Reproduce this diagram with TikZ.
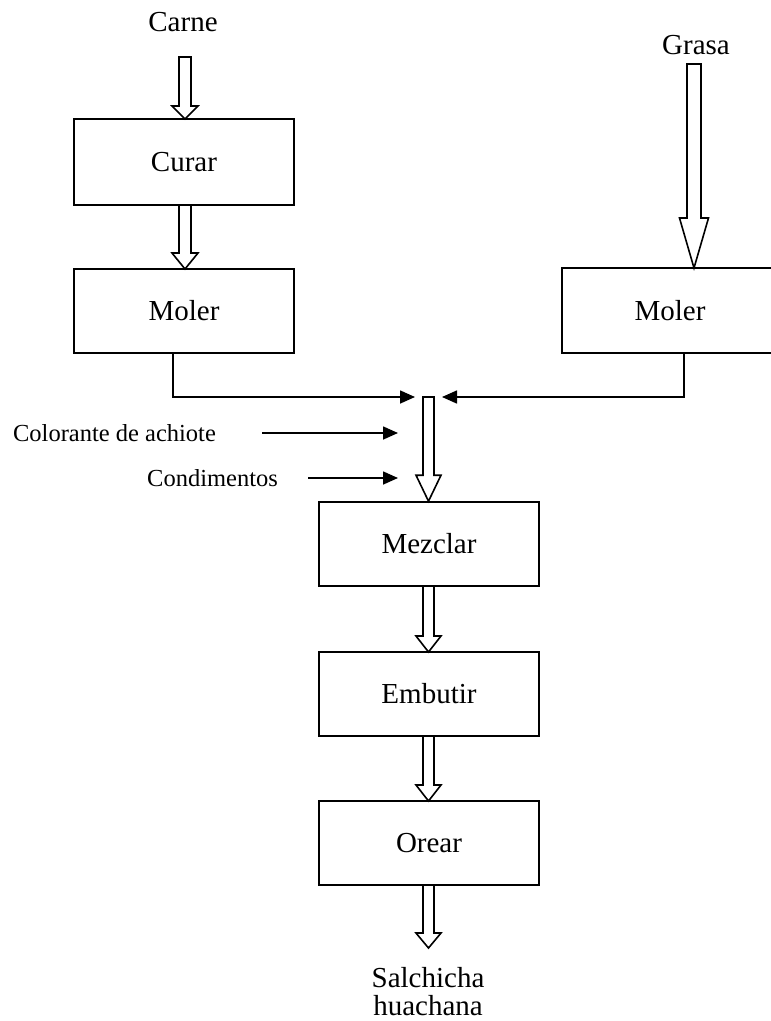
\documentclass[tikz,border=0pt]{standalone}
\usepackage{fontspec}
\setmainfont{Liberation Serif}
\usetikzlibrary{arrows.meta,calc}
\tikzset{
  box/.style={draw, line width=1.6pt, minimum width=220pt, minimum height=84pt, inner sep=0pt, font=\fontsize{29}{33}\selectfont},
  lbl/.style={inner sep=0pt, font=\fontsize{29}{33}\selectfont},
  slbl/.style={inner sep=0pt, font=\fontsize{24.5}{28}\selectfont},
  conn/.style={line width=1.6pt, -{Triangle[length=15pt,width=13pt]}},
  hollow/.style={line width=1.6pt, line join=miter},
}
% #1 from, #2 to, #3 shaft half width, #4 head half width, #5 head length
\newcommand\harrow[5]{%
  \draw[hollow] let \p1=(#1), \p2=(#2) in
    (\x1-#3,\y1) -- (\x1-#3,\y2+#5) -- (\x1-#4,\y2+#5) -- (\x1,\y2)
    -- (\x1+#4,\y2+#5) -- (\x1+#3,\y2+#5) -- (\x1+#3,\y1) -- cycle;}
\begin{document}
\begin{tikzpicture}[x=1pt,y=-1pt]
\useasboundingbox (0,0) rectangle (771,1021);
% labels
\node[lbl] (carne) at (183,22) {Carne};
\node[lbl] (grasa) at (696,45) {Grasa};
% boxes
\node[box, minimum height=86pt] (curar) at (184,162) {Curar};
\node[box] (moler1) at (184,311) {Moler};
\begin{scope}
\clip (0,0) rectangle (771,1021);
\node[box, minimum width=226pt, minimum height=85pt, text width=213pt, align=center] (moler2) at (675,310.5) {\hspace*{-10pt}Moler};
\end{scope}
\node[box] (mezclar) at (429,544) {Mezclar};
\node[box] (embutir) at (429,694) {Embutir};
\node[box] (orear) at (429,843) {Orear};
\node[lbl, align=center, font=\fontsize{29}{28}\selectfont] (salchicha) at (428,992) {Salchicha\\huachana};
% side inputs
\node[slbl] (colorante) at (114.5,433) {Colorante de achiote};
\node[slbl] (condimentos) at (212.5,478) {Condimentos};
% coordinates
\coordinate (carnetop) at (185,57);
\coordinate (curartop) at (185,119);
\coordinate (curarbot) at (185,205);
\coordinate (moler1top) at (185,269);
\coordinate (grasatop) at (694,64);
\coordinate (moler2top) at (694,268);
\coordinate (m1drop) at (173,353);
\coordinate (m2drop) at (684,353);
\coordinate (ltip) at (415,397);
\coordinate (rtip) at (442,397);
\coordinate (jtop) at (428.5,397);
\coordinate (ctip) at (398,433);
\coordinate (cstart) at (262,433);
\coordinate (dtip) at (398,478);
\coordinate (dstart) at (308,478);
\coordinate (mezbot) at (428.5,586);
\coordinate (embtop) at (428.5,652);
\coordinate (embbot) at (428.5,736);
\coordinate (oretop) at (428.5,801);
\coordinate (orebot) at (428.5,885);
\coordinate (outtip) at (428.5,948);
% hollow arrows
\harrow{carnetop}{curartop}{6pt}{13pt}{13pt}
\harrow{curarbot}{moler1top}{6pt}{13pt}{16pt}
\harrow{grasatop}{moler2top}{7pt}{14.5pt}{50pt}
\harrow{jtop}{mezclar.north}{5.5pt}{12.5pt}{26pt}
\harrow{mezbot}{embtop}{5.5pt}{12.5pt}{16pt}
\harrow{embbot}{oretop}{5.5pt}{12.5pt}{16pt}
\harrow{orebot}{outtip}{5.5pt}{12.5pt}{15pt}
% connectors
\draw[conn] (m1drop) |- (ltip);
\draw[conn] (m2drop) |- (rtip);
\draw[conn] (cstart) -- (ctip);
\draw[conn] (dstart) -- (dtip);
\end{tikzpicture}
\end{document}
